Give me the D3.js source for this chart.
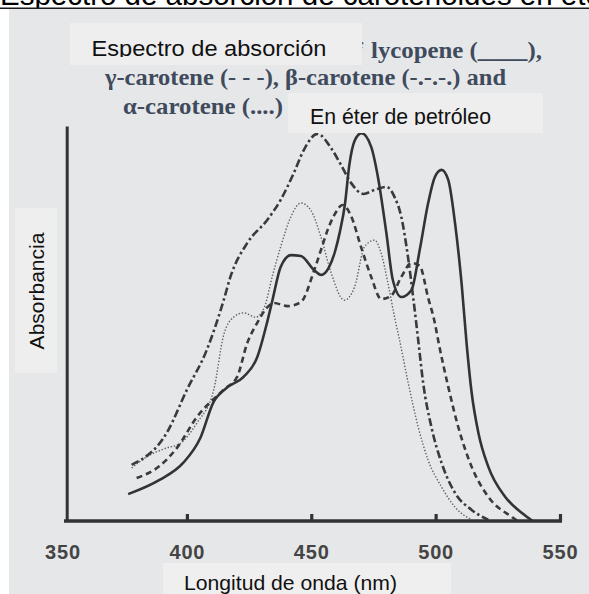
<!DOCTYPE html>
<html>
<head>
<meta charset="utf-8">
<script src="https://cdn.jsdelivr.net/npm/d3@7"></script>
<style>
  html, body { margin: 0; padding: 0; background: #ffffff; }
  svg { display: block; }
</style>
</head>
<body>
<svg id="chart" width="589" height="594"></svg>
<script>
// ---------- data (wavelength in nm, relative absorbance 0..1) ----------
const xTickValues = [350, 400, 450, 500, 550];

const lycopeneNm  = [376.4, 389, 398.5, 405.4, 410.7, 416, 422.8, 428.3, 432.3, 434.4, 437.7, 441.8, 445.8, 451.2, 454, 457, 459.5, 461.5, 463.5, 465.3, 467.4, 470.2, 474.1, 476.8, 480.2, 482.8, 486.2, 490.3, 493.6, 497, 499.7, 502.4, 505.1, 507.8, 510.5, 512.5, 514.5, 517.2, 521.2, 528, 534.7, 539];
const lycopeneAbs = [0.068, 0.104, 0.147, 0.210, 0.301, 0.337, 0.365, 0.415, 0.504, 0.559, 0.643, 0.673, 0.671, 0.635, 0.623, 0.641, 0.681, 0.732, 0.800, 0.901, 0.962, 0.982, 0.947, 0.871, 0.729, 0.610, 0.567, 0.585, 0.686, 0.805, 0.871, 0.889, 0.863, 0.754, 0.597, 0.446, 0.324, 0.223, 0.137, 0.061, 0.020, 0.0];

const gammaNm  = [379.8, 389, 396, 404, 414.7, 420.2, 424.3, 428.5, 432, 435, 440.4, 445.8, 451.2, 453.9, 456.6, 459.3, 462.6, 466, 470, 474.1, 478.1, 482.1, 486.2, 490.3, 493.6, 497, 499.7, 501, 505.1, 509.1, 514.5, 521.2, 530.7, 533];
const gammaAbs = [0.109, 0.139, 0.185, 0.263, 0.332, 0.365, 0.451, 0.504, 0.539, 0.552, 0.544, 0.554, 0.635, 0.686, 0.737, 0.775, 0.800, 0.772, 0.694, 0.618, 0.562, 0.570, 0.618, 0.653, 0.646, 0.565, 0.501, 0.458, 0.339, 0.238, 0.137, 0.061, 0.010, 0.0];

const betaNm  = [377.8, 391.9, 400, 408, 414.8, 417.5, 424.3, 432.3, 437.7, 443, 447, 452.5, 458, 462, 466, 471, 475.4, 480.2, 483.5, 486.2, 488.9, 491, 493, 495, 498.3, 502.4, 507.8, 514.5, 521.2];
const betaAbs = [0.142, 0.223, 0.332, 0.433, 0.559, 0.618, 0.704, 0.762, 0.813, 0.881, 0.939, 0.980, 0.944, 0.901, 0.856, 0.828, 0.838, 0.846, 0.820, 0.770, 0.668, 0.565, 0.458, 0.349, 0.238, 0.147, 0.071, 0.028, 0.003];

const alphaNm  = [377.8, 383.8, 391.9, 397, 404, 410.8, 414.8, 418.8, 422.9, 427.6, 431, 434.5, 437.7, 441.8, 445.8, 449.8, 453.9, 458, 463.3, 467.4, 471.4, 475.4, 478.1, 480.8, 483.5, 485.5, 489, 493, 497, 502.4, 507.8, 514.5];
const alphaAbs = [0.134, 0.162, 0.185, 0.195, 0.248, 0.332, 0.471, 0.516, 0.527, 0.516, 0.539, 0.623, 0.694, 0.770, 0.805, 0.787, 0.719, 0.628, 0.559, 0.592, 0.694, 0.711, 0.678, 0.603, 0.516, 0.458, 0.349, 0.238, 0.154, 0.086, 0.035, 0.003];

const titleText   = "Espectro de absorción de carotenoides en éter de petróleo";
const captionL1a  = "of";
const captionL1   = "lycopene (____),";
const captionL2   = "γ-carotene (- - -), β-carotene (-.-.-.) and";
const captionL3   = "α-carotene (....)";
const overlayTop  = "Espectro de absorción";
const overlaySub  = "En éter de petróleo";
const xLabel      = "Longitud de onda (nm)";
const yLabel      = "Absorbancia";

// ---------- setup ----------
const SANS = "'Liberation Sans', Arial, Helvetica, sans-serif";
const SERIF = "'Liberation Serif', 'DejaVu Serif', 'Times New Roman', serif";
const svg = d3.select("#chart");
const W = 589, H = 594;

const x = d3.scaleLinear().domain([350, 550]).range([62.5, 560]);
const y = d3.scaleLinear().domain([0, 1]).range([521, 126]);

// white page + title (cut at the top in the reference)
svg.append("rect").attr("x", 0).attr("y", 0).attr("width", W).attr("height", H).attr("fill", "#ffffff");
svg.append("text").attr("x", 0).attr("y", 5)
  .attr("font-family", SANS).attr("font-size", 29.5).attr("fill", "#000").text(titleText);
svg.append("line").attr("x1", 0).attr("x2", W).attr("y1", 8.2).attr("y2", 8.2)
  .attr("stroke", "#1a1a1a").attr("stroke-width", 1.6);

// grey panel (scan background)
svg.append("rect").attr("x", 9).attr("y", 9).attr("width", W - 9).attr("height", H - 9).attr("fill", "#e6e7e9");

// caption from the original figure (partly hidden behind overlay boxes)
const capColor = "#3f4b5c";
const cap = svg.append("g");
function capText(txt, x0, y0, len) {
  const t = cap.append("text").attr("x", x0).attr("y", y0)
    .attr("font-family", SERIF).attr("font-weight", "bold").attr("font-size", 24)
    .attr("fill", capColor).text(txt);
  if (len) t.attr("textLength", len).attr("lengthAdjust", "spacingAndGlyphs");
  return t;
}
capText(captionL1a, 342, 58, 21);
capText(captionL1, 371, 58, 171);
capText(captionL2, 105, 85, 401);
capText(captionL3, 123, 114, 160);

// ---------- curves ----------
const line = d3.line().x(d => x(d[0])).y(d => y(d[1])).curve(d3.curveMonotoneX);
const series = [
  { nm: alphaNm,    abs: alphaAbs,    dash: "1.4,1.8",     w: 1.4, c: "#606060" },
  { nm: betaNm,     abs: betaAbs,     dash: "8,3,2.5,3",   w: 2.6, c: "#3a3a3a" },
  { nm: gammaNm,    abs: gammaAbs,    dash: "6,4",         w: 2.6, c: "#3a3a3a" },
  { nm: lycopeneNm, abs: lycopeneAbs, dash: null,          w: 2.6, c: "#333333" }
];
const gCurves = svg.append("g");
series.forEach(s => {
  const pts = s.nm.map((v, i) => [v, s.abs[i]]);
  const p = gCurves.append("path").datum(pts).attr("d", line)
    .attr("fill", "none").attr("stroke", s.c).attr("stroke-width", s.w)
    .attr("stroke-linejoin", "round").attr("stroke-linecap", "butt");
  if (s.dash) p.attr("stroke-dasharray", s.dash);
});

// ---------- axes ----------
const xAxis = d3.axisBottom(x).tickValues(xTickValues).tickSizeInner(-7).tickSizeOuter(0)
  .tickPadding(24).tickFormat(d3.format("d"));
const gx = svg.append("g").attr("transform", `translate(0,${y(0)})`).call(xAxis);
gx.select(".domain").attr("stroke", "#333").attr("stroke-width", 3.5)
  .attr("d", `M${x(350) + 1.5},0H${x(550) + 2}`);
gx.selectAll(".tick line").attr("stroke", "#333").attr("stroke-width", 3.2);
gx.selectAll(".tick").filter(d => d === 350).select("line").remove();
gx.selectAll(".tick text").attr("font-size", 20).attr("font-weight", "bold")
  .attr("fill", "#444").attr("letter-spacing", 0.8)
  .attr("font-family", SANS);

const yAxis = d3.axisLeft(y).tickValues([]).tickSizeOuter(0);
const gy = svg.append("g").attr("transform", `translate(${x(350) + 4.2},0)`).call(yAxis);
gy.select(".domain").attr("stroke", "#333").attr("stroke-width", 3);

// ---------- overlay boxes (added labels) ----------
const defs = svg.append("defs");
defs.append("clipPath").attr("id", "clipTop").append("rect").attr("x", 70).attr("y", 23).attr("width", 292).attr("height", 34);
defs.append("clipPath").attr("id", "clipSub").append("rect").attr("x", 288).attr("y", 93).attr("width", 255).attr("height", 32);

svg.append("rect").attr("x", 70).attr("y", 23).attr("width", 292).attr("height", 42).attr("fill", "#eeeeef");
svg.append("text").attr("x", 91.5).attr("y", 56).attr("font-family", SANS).attr("font-size", 22.5).attr("fill", "#111")
  .attr("textLength", 235).attr("lengthAdjust", "spacingAndGlyphs")
  .attr("clip-path", "url(#clipTop)").text(overlayTop);

svg.append("rect").attr("x", 288).attr("y", 93).attr("width", 255).attr("height", 40).attr("fill", "#eeeeef");
svg.append("text").attr("x", 310).attr("y", 124).attr("font-family", SANS).attr("font-size", 22).attr("fill", "#111")
  .attr("textLength", 181).attr("lengthAdjust", "spacingAndGlyphs")
  .attr("clip-path", "url(#clipSub)").text(overlaySub);

svg.append("rect").attr("x", 163).attr("y", 563).attr("width", 288).attr("height", 31).attr("fill", "#efefef");
svg.append("text").attr("x", 184).attr("y", 590).attr("font-family", SANS).attr("font-size", 21).attr("fill", "#111")
  .attr("textLength", 213).attr("lengthAdjust", "spacingAndGlyphs").text(xLabel);

svg.append("rect").attr("x", 15).attr("y", 208).attr("width", 42).attr("height", 165).attr("fill", "#eeeeef");
svg.append("text").attr("transform", "translate(44,291) rotate(-90)")
  .attr("text-anchor", "middle").attr("font-family", SANS).attr("font-size", 21).attr("fill", "#111").text(yLabel);
</script>
</body>
</html>
